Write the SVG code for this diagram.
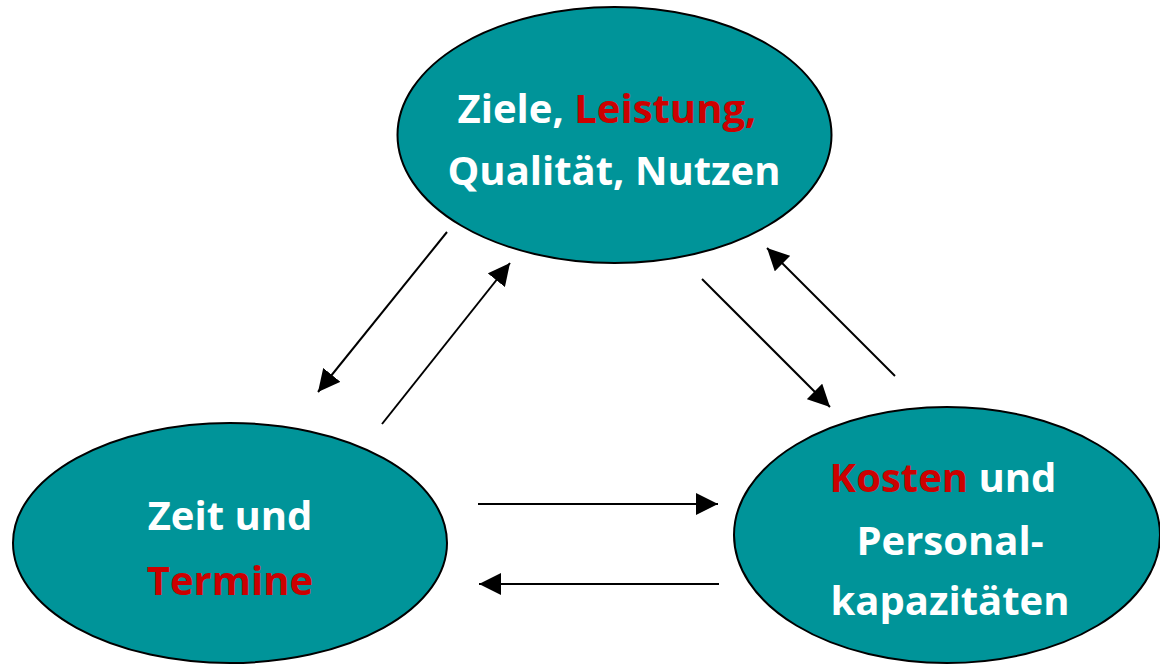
<svg xmlns="http://www.w3.org/2000/svg" width="1160" height="664" viewBox="0 0 1160 664">
  <style>
    .node { fill: #009499; stroke: #000; stroke-width: 2; }
    .lbl { font-family: "Open Sans", "Noto Sans", sans-serif; font-weight: bold; font-size: 40px; fill: #fff; text-anchor: middle; }
    .hi { fill: #cc0000; }
    .edge { stroke: #000; stroke-width: 2; fill: none; marker-end: url(#head); }
  </style>
  <defs>
    <marker id="head" viewBox="0 0 22 22" refX="22" refY="11" markerWidth="22" markerHeight="22" markerUnits="userSpaceOnUse" orient="auto">
      <path d="M0,0 L22,11 L0,22 Z" fill="#000"/>
    </marker>
  </defs>
  <rect width="1160" height="664" fill="#fff"/>

  <g id="node-ziele">
    <ellipse class="node" cx="614.5" cy="135" rx="217" ry="128"/>
    <text class="lbl" x="607" y="123">Ziele, <tspan class="hi">Leistung,</tspan></text>
    <text class="lbl" x="614" y="185">Qualität, Nutzen</text>
  </g>

  <g id="node-zeit">
    <ellipse class="node" cx="230" cy="543" rx="217" ry="120"/>
    <text class="lbl" x="230" y="530">Zeit und</text>
    <text class="lbl hi" x="230" y="595">Termine</text>
  </g>

  <g id="node-kosten">
    <ellipse class="node" cx="947" cy="535" rx="213" ry="128"/>
    <text class="lbl" x="943" y="492"><tspan class="hi">Kosten</tspan> und</text>
    <text class="lbl" x="950" y="555">Personal-</text>
    <text class="lbl" x="950" y="615">kapazitäten</text>
  </g>

  <g id="connectors">
    <line class="edge" x1="447" y1="232" x2="318" y2="392"/>
    <line class="edge" x1="382" y1="424" x2="510" y2="263"/>
    <line class="edge" x1="702" y1="279" x2="830" y2="407"/>
    <line class="edge" x1="895" y1="376" x2="767" y2="248"/>
    <line class="edge" x1="478" y1="504" x2="718" y2="504"/>
    <line class="edge" x1="719" y1="584" x2="479" y2="584"/>
  </g>
</svg>
